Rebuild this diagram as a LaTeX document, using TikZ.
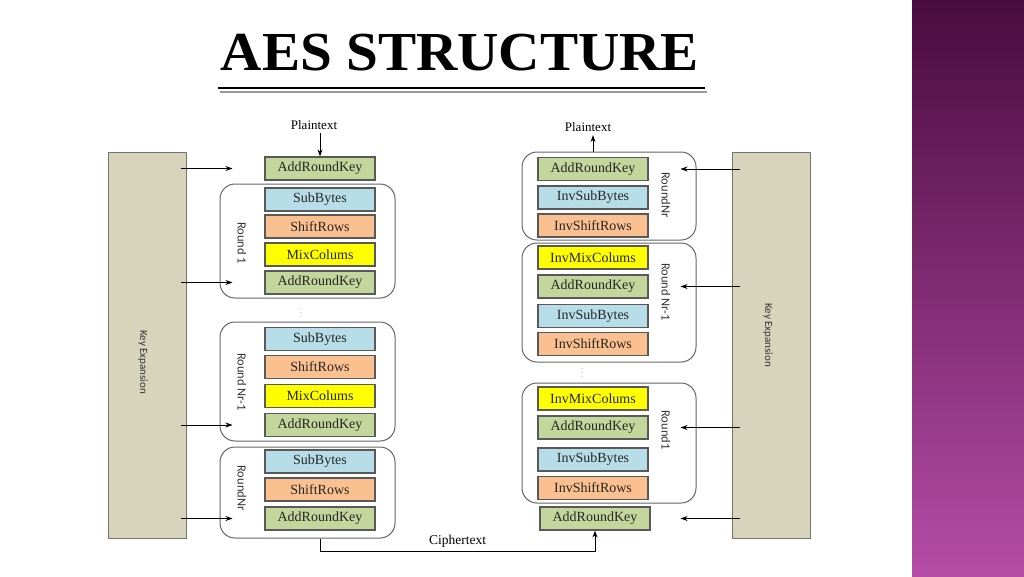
\documentclass[tikz,border=0pt]{standalone}
\usepackage{fontspec}
\setmainfont{Liberation Serif}
\newfontfamily\calfont{Carlito}
\newfontfamily\titlefont{Liberation Serif}[FakeStretch=1.04]
\usetikzlibrary{arrows.meta}

\definecolor{arkgreen}{HTML}{C3D69B}
\definecolor{subblue}{HTML}{B7DDE8}
\definecolor{shforange}{HTML}{FAC090}
\definecolor{mixyellow}{HTML}{FFFF00}
\definecolor{keygray}{HTML}{D8D4BC}
\definecolor{purptop}{HTML}{4A0C3E}
\definecolor{purpbot}{HTML}{B54CA7}

\begin{document}
\begin{tikzpicture}[x=1pt, y=-1pt,
	stepbox/.style={draw=black!65, line width=1.2pt, minimum width=110pt, minimum height=23pt, inner sep=0pt, text=black!85, font=\fontsize{14}{16}\selectfont},
	ark/.style={stepbox, fill=arkgreen},
	sub/.style={stepbox, fill=subblue},
	shf/.style={stepbox, fill=shforange},
	mix/.style={stepbox, fill=mixyellow},
	roundbox/.style={draw=black!60, line width=1pt, rounded corners=15pt, inner sep=0pt},
	rlabel/.style={rotate=-90, text=black!80, font=\calfont\fontsize{12.5}{14}\selectfont},
	keybox/.style={draw=black!55, line width=1pt, fill=keygray, minimum width=78pt, minimum height=386pt, inner sep=0pt},
	keylabel/.style={rotate=-90, text=black!80, font=\calfont\fontsize{11}{13}\selectfont},
	keyarrow/.style={->, >={Stealth[length=7pt, width=5pt]}, line width=0.8pt}]
	\fill[white] (0,0) rectangle (1024,576);
	\useasboundingbox (0,0) rectangle (1024,576);
	\shade[top color=purptop, bottom color=purpbot] (912,0) rectangle (1024,576);

	% title
	\node[anchor=base, font=\titlefont\bfseries\fontsize{55}{60}\selectfont] (title) at (460,70) {AES STRUCTURE};
	\draw[black!40, line width=1.5pt] (220,92) -- (707,92);
	\draw[black, line width=2.5pt] (218,88) -- (705,88);

	% encryption side
	\node[keybox] (keyL) at (147,345) {};
	\node[keylabel] (keyLtxt) at (143,362) {Key Expansion};
	\node[font=\fontsize{13}{15}\selectfont] (plainL) at (314,125) {Plaintext};
	\node[ark] (ark0) at (320,168.5) {AddRoundKey};

	\node[roundbox, minimum width=175pt, minimum height=114pt] (rnd1) at (307.5,241) {};
	\node[rlabel] (rnd1txt) at (242,243) {Round 1};
	\node[sub] (sb1) at (320,199.5) {SubBytes};
	\node[shf] (sr1) at (320,226.5) {ShiftRows};
	\node[mix] (mc1) at (320,254.5) {MixColums};
	\node[ark] (ark1) at (320,282.5) {AddRoundKey};

	\node[text=black!45, font=\fontsize{8}{8}\selectfont] (dotsL) at (301,310) {$\vdots$};

	\node[roundbox, minimum width=175pt, minimum height=119pt] (rndN1) at (307.5,381.5) {};
	\node[rlabel] (rndN1txt) at (242,382) {Round Nr-1};
	\node[sub] (sbN1) at (320,339) {SubBytes};
	\node[shf] (srN1) at (320,367) {ShiftRows};
	\node[mix] (mcN1) at (320,396) {MixColums};
	\node[ark] (arkN1) at (320,425) {AddRoundKey};

	\node[roundbox, minimum width=175pt, minimum height=91pt] (rndN) at (307.5,492.5) {};
	\node[rlabel] (rndNtxt) at (242,488) {RoundNr};
	\node[sub] (sbN) at (320,461.5) {SubBytes};
	\node[shf] (srN) at (320,489.5) {ShiftRows};
	\node[ark] (arkN) at (320,518.5) {AddRoundKey};

	\draw[keyarrow] (plainL.south -| ark0.north) -- (ark0.north);
	\draw[keyarrow] ([xshift=-6pt]keyL.east |- ark0) -- ([xshift=13pt]rnd1.west |- ark0);
	\draw[keyarrow] ([xshift=-6pt]keyL.east |- ark1) -- ([xshift=13pt]rnd1.west |- ark1);
	\draw[keyarrow] ([xshift=-6pt]keyL.east |- arkN1) -- ([xshift=13pt]rndN1.west |- arkN1);
	\draw[keyarrow] ([xshift=-6pt]keyL.east |- arkN) -- ([xshift=13pt]rndN.west |- arkN);

	% decryption side
	\node[keybox] (keyR) at (771,345) {};
	\node[keylabel] (keyRtxt) at (768,335) {Key Expansion};
	\node[font=\fontsize{13}{15}\selectfont] (plainR) at (588,127) {Plaintext};

	\node[roundbox, minimum width=174pt, minimum height=88pt] (irndN) at (609,196) {};
	\node[rlabel] (irndNtxt) at (666,195) {RoundNr};
	\node[ark] (iarkN) at (593,169) {AddRoundKey};
	\node[sub] (isbN) at (593,197.5) {InvSubBytes};
	\node[shf] (isrN) at (593,225.5) {InvShiftRows};

	\node[roundbox, minimum width=174pt, minimum height=119pt] (irndN1) at (609,302.5) {};
	\node[rlabel] (irndN1txt) at (666,292) {Round Nr-1};
	\node[mix] (imcN1) at (593,257.5) {InvMixColums};
	\node[ark] (iarkN1) at (593,286.5) {AddRoundKey};
	\node[sub] (isbN1) at (593,316) {InvSubBytes};
	\node[shf] (isrN1) at (593,344) {InvShiftRows};

	\node[text=black!45, font=\fontsize{8}{8}\selectfont] (dotsR) at (582,370) {$\vdots$};

	\node[roundbox, minimum width=174pt, minimum height=120pt] (irnd1) at (609,443) {};
	\node[rlabel] (irnd1txt) at (666,430) {Round1};
	\node[mix] (imc1) at (593,398.5) {InvMixColums};
	\node[ark] (iark1) at (593,427.5) {AddRoundKey};
	\node[sub] (isb1) at (593,459.5) {InvSubBytes};
	\node[shf] (isr1) at (593,488) {InvShiftRows};

	\node[ark] (iark0) at (595,518.5) {AddRoundKey};

	\draw[keyarrow] (irndN.north -| iarkN.north) -- (plainR.south -| iarkN.north);
	\draw[keyarrow] ([xshift=8pt]keyR.west |- iarkN) -- ([xshift=-16pt]irndN.east |- iarkN);
	\draw[keyarrow] ([xshift=8pt]keyR.west |- iarkN1) -- ([xshift=-16pt]irndN1.east |- iarkN1);
	\draw[keyarrow] ([xshift=8pt]keyR.west |- iark1) -- ([xshift=-16pt]irnd1.east |- iark1);
	\draw[keyarrow] ([xshift=8pt]keyR.west |- iark0) -- ([xshift=-16pt]irnd1.east |- iark0);

	% ciphertext link
	\draw[keyarrow] (arkN.south |- rndN.south) -- ++(0,13) -| (iark0.south) node[pos=0.25, above, font=\fontsize{13.5}{15}\selectfont] {Ciphertext};
\end{tikzpicture}
\end{document}
